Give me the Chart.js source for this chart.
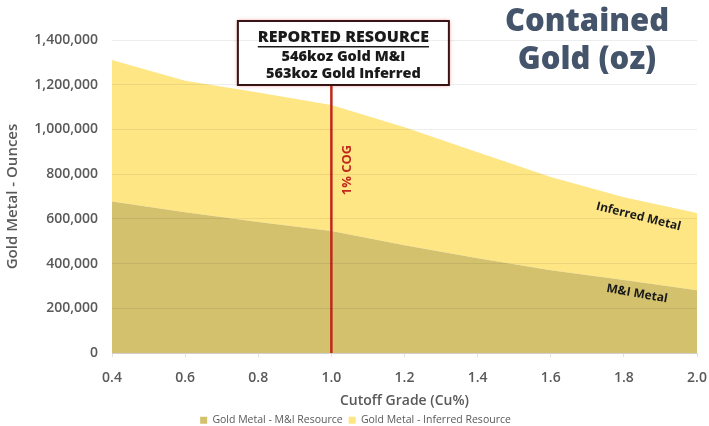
<!DOCTYPE html>
<html>
<head>
<meta charset="utf-8">
<script src="https://cdn.jsdelivr.net/npm/chart.js@4"></script>
<style>
  html, body { margin: 0; padding: 0; background: #fff; }
  #wrap { width: 709px; height: 426px; }
</style>
</head>
<body>
<div id="wrap"><canvas id="chart"></canvas></div>
<script>
// cutoff grade (Cu%) vs contained gold ounces
const grades = [0.4, 0.6, 0.8, 1.0, 1.2, 1.4, 1.6, 1.8, 2.0];
const miResource = [678000, 630000, 586000, 546000, 482000, 424000, 370000, 326000, 281000];
const inferredResource = [633000, 588000, 579000, 563000, 528000, 474000, 417000, 371000, 345000];
const seriesNames = ['Gold Metal - M&I Resource', 'Gold Metal - Inferred Resource'];
const titleLines = ['Contained', 'Gold (oz)'];
const boxLines = ['REPORTED RESOURCE', '546koz Gold M&I', '563koz Gold Inferred'];
const cogGrade = 1.0;

const miColour = 'rgb(211,193,110)';
const infColour = 'rgb(254,230,132)';
const grey = '#595959';
const red = '#C0281C';

const pts = vals => grades.map((g, i) => ({x: g, y: vals[i]}));

const annotations = {
  id: 'annotations',
  afterDatasetsDraw(chart) {
    const {ctx, chartArea, scales: {x, y}} = chart;
    ctx.save();

    // cutoff line
    const lx = x.getPixelForValue(cogGrade);
    const boxTop = chartArea.top - 19;
    const boxH = 64;
    ctx.strokeStyle = red;
    ctx.lineWidth = 2.5;
    ctx.beginPath();
    ctx.moveTo(lx, boxTop + boxH);
    ctx.lineTo(lx, y.getPixelForValue(0));
    ctx.stroke();

    ctx.save();
    ctx.translate(lx + 16, 170);
    ctx.rotate(-Math.PI / 2);
    ctx.fillStyle = red;
    ctx.font = 'bold 13px "Open Sans"';
    ctx.textAlign = 'center';
    ctx.textBaseline = 'middle';
    ctx.fillText('1% COG', 0, 0);
    ctx.restore();

    // reported resource box
    const bw = 211, bx = lx + 12 - bw / 2;
    ctx.save();
    ctx.shadowColor = 'rgba(200,40,40,0.6)';
    ctx.shadowBlur = 4;
    ctx.fillStyle = '#fff';
    ctx.fillRect(bx, boxTop, bw, boxH);
    ctx.restore();
    ctx.strokeStyle = '#3a1414';
    ctx.lineWidth = 2;
    ctx.strokeRect(bx, boxTop, bw, boxH);

    ctx.fillStyle = '#1a1a1a';
    ctx.textAlign = 'center';
    ctx.textBaseline = 'middle';
    const cx = bx + bw / 2;
    ctx.font = '800 16px "Open Sans"';
    ctx.fillText(boxLines[0], cx, boxTop + 16);
    const tw = ctx.measureText(boxLines[0]).width;
    ctx.fillRect(cx - tw / 2, boxTop + 25, tw, 1.5);
    ctx.font = '800 14.5px "Open Sans"';
    ctx.fillText(boxLines[1], cx, boxTop + 36);
    ctx.fillText(boxLines[2], cx, boxTop + 53);

    // area labels
    ctx.fillStyle = '#1a1a1a';
    ctx.font = 'bold 12px "Open Sans"';
    ctx.save();
    ctx.translate(x.getPixelForValue(1.84), y.getPixelForValue(610000));
    ctx.rotate(14 * Math.PI / 180);
    ctx.fillText('Inferred Metal', 0, 0);
    ctx.restore();
    ctx.save();
    ctx.translate(x.getPixelForValue(1.836), y.getPixelForValue(265000));
    ctx.rotate(10 * Math.PI / 180);
    ctx.fillText('M&I Metal', 0, 0);
    ctx.restore();

    // title
    ctx.fillStyle = '#44546A';
    ctx.font = '800 31px "Open Sans"';
    ctx.fillText(titleLines[0], 587, 22);
    ctx.fillText(titleLines[1], 587, 60);

    ctx.restore();
  }
};

new Chart(document.getElementById('chart'), {
  type: 'line',
  data: {
    datasets: [{
      label: seriesNames[0],
      data: pts(miResource),
      backgroundColor: miColour,
      borderWidth: 0,
      pointRadius: 0,
      fill: 'origin'
    }, {
      label: seriesNames[1],
      data: pts(inferredResource),
      backgroundColor: infColour,
      borderWidth: 0,
      pointRadius: 0,
      fill: '-1'
    }]
  },
  options: {
    responsive: true,
    maintainAspectRatio: false,
    animation: false,
    layout: {
      padding: {left: 2, right: 0, top: 40, bottom: -9.5}
    },
    plugins: {
      legend: {
        position: 'bottom',
        labels: {
          boxWidth: 7,
          boxHeight: 7,
          padding: 6,
          color: grey,
          font: {family: 'Open Sans', size: 10.5}
        }
      },
      tooltip: {enabled: false}
    },
    scales: {
      x: {
        type: 'linear',
        min: 0.4,
        max: 2.0,
        afterFit: scale => {
          scale.height = 56;
          scale.paddingRight = 12;
        },
        grid: {
          drawOnChartArea: false,
          tickLength: 4,
          color: '#e0e0e0'
        },
        border: {color: '#e0e0e0'},
        ticks: {
          stepSize: 0.2,
          padding: 13,
          color: grey,
          font: {family: 'Open Sans', size: 14, weight: '600'},
          callback: v => v.toFixed(1)
        },
        title: {
          display: true,
          text: 'Cutoff Grade (Cu%)',
          color: grey,
          font: {family: 'Open Sans', size: 14, weight: '600'},
          padding: {top: 0, bottom: 0}
        }
      },
      y: {
        stacked: true,
        min: 0,
        max: 1400000,
        afterFit: scale => {
          scale.width = 110;
        },
        grid: {
          z: 1,
          drawTicks: false,
          color: 'rgba(0,0,0,0.07)'
        },
        border: {display: false},
        ticks: {
          stepSize: 200000,
          padding: 14,
          color: grey,
          font: {family: 'Open Sans', size: 14, weight: '600'},
          callback: v => v.toLocaleString('en-US')
        },
        title: {
          display: true,
          text: 'Gold Metal - Ounces',
          color: grey,
          font: {family: 'Open Sans', size: 15, weight: '600'},
          padding: 2
        }
      }
    }
  },
  plugins: [annotations]
});
</script>
</body>
</html>
